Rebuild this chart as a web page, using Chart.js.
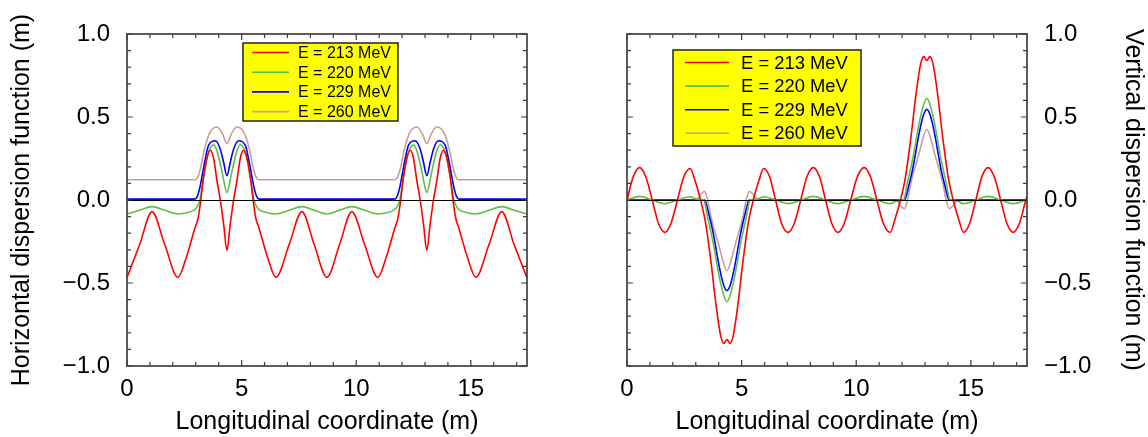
<!DOCTYPE html>
<html>
<head>
<meta charset="utf-8">
<script src="https://cdn.jsdelivr.net/npm/chart.js@4.4.0/dist/chart.umd.min.js"></script>
<style>
  html, body { margin: 0; padding: 0; background: #fff; }
  #wrap { position: relative; width: 1148px; height: 437px; overflow: hidden; }
  canvas { position: absolute; top: 0; }
  #horiz { left: 0; }
  #vert { left: 574px; }
</style>
</head>
<body>
<div id="wrap">
  <canvas id="horiz" width="574" height="437"></canvas>
  <canvas id="vert" width="574" height="437"></canvas>
</div>
<script>
// beam energies and curve colours
const energies = ["E = 213 MeV", "E = 220 MeV", "E = 229 MeV", "E = 260 MeV"];
const colors = ["#ff0000", "#5fbe45", "#0000ff", "#c4a09c"];

const xTicks = [0, 5, 10, 15];
const yTicks = [-1, -0.5, 0, 0.5, 1];

// horizontal dispersion [s (m), eta_x (m)]
const hRed213 = [
  [0, -0.466], [0.55, -0.27], [1.09, -0.07], [1.65, -0.27], [2.22, -0.466],
  [2.6, -0.34], [2.96, -0.17], [3.1, -0.11], [3.22, 0], [3.34, 0.14], [3.48, 0.25],
  [3.64, 0.3], [3.78, 0.25], [3.92, 0.12], [4.07, 0], [4.22, -0.15], [4.36, -0.305],
  [4.5, -0.15], [4.65, 0], [4.8, 0.12], [4.94, 0.25], [5.08, 0.3], [5.24, 0.25],
  [5.38, 0.14], [5.5, 0], [5.62, -0.11], [5.76, -0.17], [6.12, -0.34], [6.5, -0.466],
  [7.07, -0.27], [7.63, -0.07], [8.17, -0.27], [8.72, -0.466], [9.27, -0.27],
  [9.81, -0.07], [10.37, -0.27], [10.94, -0.466],
  [11.32, -0.34], [11.68, -0.17], [11.82, -0.11], [11.94, 0], [12.06, 0.14], [12.2, 0.25],
  [12.36, 0.3], [12.5, 0.25], [12.64, 0.12], [12.79, 0], [12.94, -0.15], [13.08, -0.305],
  [13.22, -0.15], [13.37, 0], [13.52, 0.12], [13.66, 0.25], [13.8, 0.3], [13.96, 0.25],
  [14.1, 0.14], [14.22, 0], [14.34, -0.11], [14.48, -0.17], [14.84, -0.34], [15.22, -0.466],
  [15.79, -0.27], [16.35, -0.07], [16.89, -0.27], [17.44, -0.466]
];
const hGreen220 = [
  [0, -0.084], [0.55, -0.062], [1.09, -0.04], [1.65, -0.062], [2.22, -0.084],
  [2.56, -0.078], [2.94, -0.06], [3.06, -0.04], [3.18, 0], [3.3, 0.1], [3.41, 0.19],
  [3.56, 0.29], [3.78, 0.333], [3.96, 0.28], [4.16, 0.16], [4.36, 0.046], [4.56, 0.16],
  [4.76, 0.28], [4.94, 0.333], [5.16, 0.29], [5.31, 0.19], [5.42, 0.1], [5.54, 0],
  [5.66, -0.04], [5.78, -0.06], [6.16, -0.078], [6.5, -0.084],
  [7.07, -0.062], [7.63, -0.04], [8.17, -0.062], [8.72, -0.084], [9.27, -0.062],
  [9.81, -0.04], [10.37, -0.062], [10.94, -0.084],
  [11.28, -0.078], [11.66, -0.06], [11.78, -0.04], [11.9, 0], [12.02, 0.1], [12.13, 0.19],
  [12.28, 0.29], [12.5, 0.333], [12.68, 0.28], [12.88, 0.16], [13.08, 0.046], [13.28, 0.16],
  [13.48, 0.28], [13.66, 0.333], [13.88, 0.29], [14.03, 0.19], [14.14, 0.1], [14.26, 0],
  [14.38, -0.04], [14.5, -0.06], [14.88, -0.078], [15.22, -0.084],
  [15.79, -0.062], [16.35, -0.04], [16.89, -0.062], [17.44, -0.084]
];
const hBlue229 = [
  [0, 0.005], [2.96, 0.005], [3.06, 0.02], [3.18, 0.076], [3.4, 0.237], [3.56, 0.33],
  [3.85, 0.357], [4.06, 0.31], [4.21, 0.23], [4.36, 0.146], [4.51, 0.23], [4.66, 0.31],
  [4.87, 0.357], [5.16, 0.33], [5.32, 0.237], [5.54, 0.076], [5.66, 0.02], [5.76, 0.005],
  [11.68, 0.005], [11.78, 0.02], [11.9, 0.076], [12.12, 0.237], [12.28, 0.33],
  [12.57, 0.357], [12.78, 0.31], [12.93, 0.23], [13.08, 0.146], [13.23, 0.23], [13.38, 0.31],
  [13.59, 0.357], [13.88, 0.33], [14.04, 0.237], [14.26, 0.076], [14.38, 0.02], [14.48, 0.005],
  [17.45, 0.005]
];
const hBrown260 = [
  [0, 0.122], [2.96, 0.122], [3.06, 0.13], [3.18, 0.176], [3.4, 0.317], [3.62, 0.407],
  [3.93, 0.44], [4.16, 0.4], [4.36, 0.34], [4.56, 0.4], [4.79, 0.44], [5.1, 0.407],
  [5.32, 0.317], [5.54, 0.176], [5.66, 0.13], [5.76, 0.122],
  [11.68, 0.122], [11.78, 0.13], [11.9, 0.176], [12.12, 0.317], [12.34, 0.407],
  [12.65, 0.44], [12.88, 0.4], [13.08, 0.34], [13.28, 0.4], [13.51, 0.44], [13.82, 0.407],
  [14.04, 0.317], [14.26, 0.176], [14.38, 0.13], [14.48, 0.122], [17.45, 0.122]
];

// vertical dispersion [s (m), eta_y (m)]
const vRed213 = [
  [0, 0], [0.27, 0.14], [0.55, 0.195], [0.82, 0.14], [1.1, 0], [1.37, -0.14], [1.65, -0.195],
  [1.92, -0.14], [2.2, 0], [2.48, 0.14], [2.76, 0.19],
  [2.96, 0.12], [3.21, 0], [3.43, -0.14], [3.66, -0.37], [3.9, -0.65], [4.09, -0.82],
  [4.23, -0.864], [4.36, -0.84], [4.49, -0.864], [4.63, -0.82], [4.82, -0.65], [5.06, -0.37],
  [5.29, -0.14], [5.51, 0], [5.76, 0.12], [5.96, 0.19],
  [6.22, 0.14], [6.48, 0], [6.74, -0.14], [7.02, -0.195], [7.3, -0.14], [7.58, 0],
  [7.85, 0.14], [8.13, 0.195], [8.4, 0.14], [8.66, 0], [8.93, -0.14], [9.2, -0.195],
  [9.48, -0.14], [9.76, 0], [10.05, 0.14], [10.35, 0.195], [10.62, 0.14], [10.9, 0],
  [11.18, -0.14], [11.48, -0.195],
  [11.68, -0.12], [11.93, 0], [12.15, 0.14], [12.38, 0.37], [12.62, 0.65], [12.81, 0.82],
  [12.95, 0.864], [13.08, 0.84], [13.21, 0.864], [13.35, 0.82], [13.54, 0.65], [13.78, 0.37],
  [14.01, 0.14], [14.23, 0], [14.48, -0.12], [14.68, -0.195],
  [14.95, -0.14], [15.22, 0], [15.48, 0.14], [15.75, 0.195], [16.02, 0.14], [16.3, 0],
  [16.57, -0.14], [16.85, -0.195], [17.12, -0.14], [17.4, 0], [17.45, 0.02]
];
const vGreen220 = [
  [0, 0], [0.55, 0.022], [1.1, 0], [1.65, -0.022], [2.2, 0], [2.76, 0.02],
  [3.06, 0.005], [3.34, 0], [3.54, -0.12], [3.74, -0.245], [4.03, -0.466], [4.21, -0.57],
  [4.36, -0.613], [4.51, -0.57], [4.69, -0.466], [4.98, -0.245], [5.18, -0.12], [5.38, 0],
  [5.66, 0.005], [5.96, 0.02],
  [6.5, 0], [7.02, -0.022], [7.58, 0], [8.13, 0.022], [8.66, 0], [9.2, -0.022], [9.76, 0],
  [10.35, 0.022], [10.9, 0], [11.48, -0.022],
  [11.78, -0.005], [12.06, 0], [12.26, 0.12], [12.46, 0.245], [12.75, 0.466], [12.93, 0.57],
  [13.08, 0.613], [13.23, 0.57], [13.41, 0.466], [13.7, 0.245], [13.9, 0.12], [14.1, 0],
  [14.38, -0.005], [14.68, -0.022],
  [15.22, 0], [15.75, 0.022], [16.3, 0], [16.85, -0.022], [17.4, 0], [17.45, 0.002]
];
const vBlue229 = [
  [0, 0], [3.39, 0], [3.56, -0.08], [3.74, -0.185], [4.03, -0.406], [4.21, -0.51],
  [4.36, -0.546], [4.51, -0.51], [4.69, -0.406], [4.98, -0.185], [5.16, -0.08], [5.33, 0],
  [12.11, 0], [12.28, 0.08], [12.46, 0.185], [12.75, 0.406], [12.93, 0.51], [13.08, 0.546],
  [13.23, 0.51], [13.41, 0.406], [13.7, 0.185], [13.88, 0.08], [14.05, 0], [17.45, 0]
];
const vBrown260 = [
  [0, 0], [3.0, 0], [3.19, 0.03], [3.38, 0.052], [3.52, 0], [3.67, -0.105], [4.03, -0.285],
  [4.21, -0.38], [4.36, -0.426], [4.51, -0.38], [4.69, -0.285], [5.05, -0.105], [5.2, 0],
  [5.34, 0.052], [5.53, 0.03], [5.72, 0],
  [11.72, 0], [11.91, -0.03], [12.1, -0.052], [12.24, 0], [12.39, 0.105], [12.75, 0.285],
  [12.93, 0.38], [13.08, 0.426], [13.23, 0.38], [13.41, 0.285], [13.77, 0.105], [13.92, 0],
  [14.06, -0.052], [14.25, -0.03], [14.44, 0], [17.45, 0]
];

const FONT = "'Liberation Sans', Arial, Helvetica, sans-serif";

// zero line, boxed frame with inward ticks, and the yellow energy key
const framePlugin = {
  id: "frame",
  afterDatasetsDraw(chart) {
    const { ctx, chartArea: a, scales: { y } } = chart;
    const y0 = Math.round(y.getPixelForValue(0)) + 0.5;
    ctx.save();
    ctx.strokeStyle = "#000";
    ctx.lineWidth = 1;
    ctx.beginPath();
    ctx.moveTo(a.left, y0);
    ctx.lineTo(a.right, y0);
    ctx.stroke();
    ctx.restore();
  },
  afterDraw(chart, args, opts) {
    const { ctx, chartArea: a, scales: { x, y } } = chart;
    ctx.save();
    ctx.strokeStyle = "#3a3a3a";
    ctx.lineWidth = 1.2;
    ctx.beginPath();
    for (let v = 0; v <= x.max + 1e-6; v += 1) {
      const px = x.getPixelForValue(v);
      const len = v % 5 === 0 ? 6 : 4;
      ctx.moveTo(px, a.bottom); ctx.lineTo(px, a.bottom - len);
      ctx.moveTo(px, a.top); ctx.lineTo(px, a.top + len);
    }
    for (let i = -10; i <= 10; i++) {
      const py = y.getPixelForValue(i / 10);
      const len = i % 5 === 0 ? 6 : 4;
      ctx.moveTo(a.left, py); ctx.lineTo(a.left + len, py);
      ctx.moveTo(a.right, py); ctx.lineTo(a.right - len, py);
    }
    ctx.stroke();
    ctx.lineWidth = 1.7;
    ctx.strokeStyle = "#404040";
    ctx.strokeRect(a.left, a.top, a.right - a.left, a.bottom - a.top);

    // energy key
    const b = opts.box;
    ctx.fillStyle = "#ffff00";
    ctx.fillRect(b.left, b.top, b.width, b.height);
    ctx.strokeStyle = "#222";
    ctx.lineWidth = 1.5;
    ctx.strokeRect(b.left, b.top, b.width, b.height);
    ctx.font = b.fontSize + "px " + FONT;
    ctx.textBaseline = "middle";
    ctx.textAlign = "left";
    chart.data.datasets.forEach((ds, i) => {
      const ry = b.rowTop + i * b.rowStep;
      ctx.strokeStyle = ds.borderColor;
      ctx.lineWidth = 1.6;
      ctx.beginPath();
      ctx.moveTo(b.lineFrom, ry);
      ctx.lineTo(b.lineTo, ry);
      ctx.stroke();
      ctx.fillStyle = "#000";
      ctx.fillText(ds.label, b.textX, ry + 1);
    });
    ctx.restore();
  }
};

function buildPanel(canvasId, series, side, yTitle, box) {
  const left = side === "left";
  return new Chart(document.getElementById(canvasId), {
    type: "line",
    data: {
      datasets: series.map((pts, i) => ({
        label: energies[i],
        data: pts.map(p => ({ x: p[0], y: p[1] })),
        borderColor: colors[i],
        borderWidth: 1.6,
        pointRadius: 0,
        fill: false,
        cubicInterpolationMode: "monotone"
      }))
    },
    options: {
      responsive: false,
      animation: false,
      devicePixelRatio: 1,
      events: [],
      layout: {
        padding: left
          ? { left: 0, right: 47, top: 34, bottom: 0 }
          : { left: 53, right: 0, top: 34, bottom: 0 }
      },
      plugins: {
        legend: { display: false },
        tooltip: { enabled: false },
        frame: { box }
      },
      scales: {
        x: {
          type: "linear",
          min: 0,
          max: 17.45,
          afterBuildTicks: s => { s.ticks = xTicks.map(v => ({ value: v })); },
          afterFit: s => { s.height = 71; },
          grid: { display: false, drawTicks: false },
          border: { display: false },
          ticks: {
            padding: 9,
            maxRotation: 0,
            minRotation: 0,
            color: "#000",
            font: { family: FONT, size: 24 },
            callback: v => String(v)
          },
          title: {
            display: true,
            text: "Longitudinal coordinate (m)",
            color: "#000",
            font: { family: FONT, size: 25 },
            padding: { top: 0, bottom: 0 }
          }
        },
        y: {
          type: "linear",
          position: side,
          min: -1,
          max: 1,
          afterBuildTicks: s => { s.ticks = yTicks.map(v => ({ value: v })); },
          afterFit: s => { s.width = left ? 127 : 121; },
          grid: { display: false, drawTicks: false },
          border: { display: false },
          ticks: {
            padding: 17,
            color: "#000",
            font: { family: FONT, size: 24 },
            callback: v => v.toFixed(1).replace("-", "\u2212")
          },
          title: {
            display: true,
            text: yTitle,
            color: "#000",
            font: { family: FONT, size: 25 },
            padding: { top: left ? 7 : 0, bottom: 0 }
          }
        }
      }
    },
    plugins: [framePlugin]
  });
}

buildPanel("horiz", [hRed213, hGreen220, hBlue229, hBrown260], "left",
  "Horizontal dispersion function (m)",
  { left: 243, top: 43, width: 155, height: 78, rowTop: 52.5, rowStep: 19.7,
    lineFrom: 252, lineTo: 289, textX: 298, fontSize: 16 });

buildPanel("vert", [vRed213, vGreen220, vBlue229, vBrown260], "right",
  "Vertical dispersion function (m)",
  { left: 99, top: 50, width: 188, height: 96, rowTop: 62.5, rowStep: 23.6,
    lineFrom: 111, lineTo: 155, textX: 167, fontSize: 18.4 });
</script>
</body>
</html>
